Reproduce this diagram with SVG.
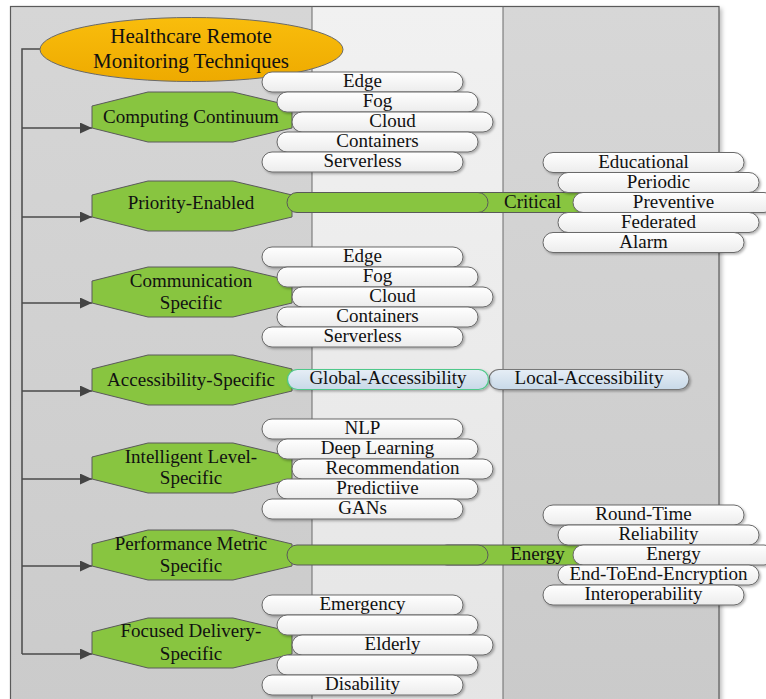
<svg xmlns="http://www.w3.org/2000/svg" width="766" height="699" viewBox="0 0 766 699" font-family="'Liberation Serif', 'DejaVu Serif', serif">
<defs>
  <linearGradient id="gLeft" x1="0" y1="0" x2="0" y2="1"><stop offset="0" stop-color="#d6d6d6"/><stop offset="1" stop-color="#cbcbcb"/></linearGradient>
  <linearGradient id="gMid" x1="0" y1="0" x2="0" y2="1"><stop offset="0" stop-color="#f1f1f1"/><stop offset="1" stop-color="#e5e5e5"/></linearGradient>
  <linearGradient id="gRight" x1="0" y1="0" x2="0" y2="1"><stop offset="0" stop-color="#d7d7d7"/><stop offset="1" stop-color="#cacaca"/></linearGradient>
  <linearGradient id="gPill" x1="0" y1="0" x2="0" y2="1"><stop offset="0" stop-color="#ffffff"/><stop offset="1" stop-color="#ececec"/></linearGradient>
  <linearGradient id="gBlue" x1="0" y1="0" x2="0" y2="1"><stop offset="0" stop-color="#e6eef6"/><stop offset="1" stop-color="#c8d9e8"/></linearGradient>
  <linearGradient id="gOrange" x1="0" y1="0" x2="0" y2="1"><stop offset="0" stop-color="#f9bd0c"/><stop offset="1" stop-color="#eeaa00"/></linearGradient>
  <filter id="sh" x="-10%" y="-30%" width="125%" height="180%"><feDropShadow dx="1.5" dy="1.5" stdDeviation="1" flood-color="#000" flood-opacity="0.3"/></filter>
  <filter id="fsh" x="-5%" y="-5%" width="110%" height="110%"><feDropShadow dx="3" dy="2" stdDeviation="2" flood-color="#000" flood-opacity="0.25"/></filter>
  <marker id="arr" markerUnits="userSpaceOnUse" markerWidth="12" markerHeight="11" refX="12" refY="5.5" orient="auto"><path d="M0,0 L12,5.5 L0,11 Z" fill="#444"/></marker>
</defs>
<style>
  text { font-family: "Liberation Serif", "DejaVu Serif", serif; fill: #111; text-anchor: middle; }
  .t19 { font-size: 19px; }
  .t21 { font-size: 21px; }
  .oct { fill: #88c540; stroke: #5a5a5a; stroke-width: 1; }
  .pill { fill: url(#gPill); stroke: #6a6a6a; stroke-width: 1; filter: url(#sh); }
  .gpill { fill: #88c540; stroke: #5a5a5a; stroke-width: 1; }
  .bpill { fill: url(#gBlue); stroke-width: 1.2; filter: url(#sh); }
  .conn { fill: none; stroke: #4a4a4a; stroke-width: 1.5; }
</style>

<g id="background">
  <rect x="10.5" y="6.5" width="708.5" height="700" fill="#fff" filter="url(#fsh)"/>
  <rect x="10.5" y="6.5" width="301.5" height="700" fill="url(#gLeft)"/>
  <rect x="312" y="6.5" width="191" height="700" fill="url(#gMid)"/>
  <rect x="503" y="6.5" width="216" height="700" fill="url(#gRight)"/>
  <rect x="10.5" y="6.5" width="708.5" height="700" fill="none" stroke="#5a5a5a" stroke-width="1.2"/>
  <line x1="312" y1="6.5" x2="312" y2="699" stroke="#6a6a6a" stroke-width="1"/>
  <line x1="503" y1="6.5" x2="503" y2="699" stroke="#6a6a6a" stroke-width="1"/>
</g>

<g id="connectors">
  <path class="conn" d="M40,49 H22 V654"/>
  <path class="conn" d="M22,128 H92" marker-end="url(#arr)"/>
  <path class="conn" d="M22,217 H92" marker-end="url(#arr)"/>
  <path class="conn" d="M22,303 H92" marker-end="url(#arr)"/>
  <path class="conn" d="M22,391 H92" marker-end="url(#arr)"/>
  <path class="conn" d="M22,479 H92" marker-end="url(#arr)"/>
  <path class="conn" d="M22,566 H92" marker-end="url(#arr)"/>
  <path class="conn" d="M22,654 H92" marker-end="url(#arr)"/>
</g>

<g id="root">
  <ellipse cx="191.5" cy="49.5" rx="151.5" ry="32" fill="url(#gOrange)" stroke="#6a6a6a" stroke-width="1"/>
  <text class="t21" x="191" y="43">Healthcare Remote</text>
  <text class="t21" x="191" y="68">Monitoring Techniques</text>
</g>

<g id="computing-continuum">
  <polygon class="oct" points="92,106 148,92 233,92 292,106 292,128 233,142 148,142 92,128"/>
  <text class="t19" x="191" y="123">Computing Continuum</text>
</g>
<g id="computing-items">
  <rect class="pill" x="262" y="72" width="201" height="20" rx="10"/><text class="t19" x="362.5" y="87">Edge</text>
  <rect class="pill" x="277" y="92" width="201" height="20" rx="10"/><text class="t19" x="377.5" y="107">Fog</text>
  <rect class="pill" x="292" y="112" width="201" height="20" rx="10"/><text class="t19" x="392.5" y="127">Cloud</text>
  <rect class="pill" x="277" y="132" width="201" height="20" rx="10"/><text class="t19" x="377.5" y="147">Containers</text>
  <rect class="pill" x="262" y="152" width="201" height="20" rx="10"/><text class="t19" x="362.5" y="167">Serverless</text>
</g>

<g id="priority-enabled">
  <polygon class="oct" points="92,195 148,181 233,181 292,195 292,217 233,231 148,231 92,217"/>
  <text class="t19" x="191" y="209">Priority-Enabled</text>
</g>
<g id="priority-critical">
  <rect class="gpill" x="437" y="192.5" width="201" height="20" rx="10"/>
  <text class="t19" x="532.5" y="208">Critical</text>
  <rect class="gpill" x="287" y="192.5" width="201" height="20" rx="10"/>
</g>
<g id="priority-items">
  <rect class="pill" x="543" y="152.5" width="201" height="20" rx="10"/><text class="t19" x="643.5" y="167.5">Educational</text>
  <rect class="pill" x="558" y="172.5" width="201" height="20" rx="10"/><text class="t19" x="658.5" y="187.5">Periodic</text>
  <rect class="pill" x="573" y="192.5" width="201" height="20" rx="10"/><text class="t19" x="673.5" y="207.5">Preventive</text>
  <rect class="pill" x="558" y="212.5" width="201" height="20" rx="10"/><text class="t19" x="658.5" y="227.5">Federated</text>
  <rect class="pill" x="543" y="232.5" width="201" height="20" rx="10"/><text class="t19" x="643.5" y="247.5">Alarm</text>
</g>

<g id="communication-specific">
  <polygon class="oct" points="92,281 148,267 233,267 292,281 292,303 233,317 148,317 92,303"/>
  <text class="t19" x="191" y="287">Communication</text>
  <text class="t19" x="191" y="309">Specific</text>
</g>
<g id="communication-items">
  <rect class="pill" x="262" y="247" width="201" height="20" rx="10"/><text class="t19" x="362.5" y="262">Edge</text>
  <rect class="pill" x="277" y="267" width="201" height="20" rx="10"/><text class="t19" x="377.5" y="282">Fog</text>
  <rect class="pill" x="292" y="287" width="201" height="20" rx="10"/><text class="t19" x="392.5" y="302">Cloud</text>
  <rect class="pill" x="277" y="307" width="201" height="20" rx="10"/><text class="t19" x="377.5" y="322">Containers</text>
  <rect class="pill" x="262" y="327" width="201" height="20" rx="10"/><text class="t19" x="362.5" y="342">Serverless</text>
</g>

<g id="accessibility-specific">
  <polygon class="oct" points="92,369 148,355 233,355 292,369 292,391 233,405 148,405 92,391"/>
  <text class="t19" x="191" y="386">Accessibility-Specific</text>
</g>
<g id="accessibility-items">
  <rect class="bpill" x="489" y="369.5" width="200" height="20" rx="10" stroke="#777"/>
  <text class="t19" x="589" y="384">Local-Accessibility</text>
  <rect class="bpill" x="287.5" y="369.5" width="201" height="20" rx="10" stroke="#4fc98a"/>
  <text class="t19" x="388" y="384">Global-Accessibility</text>
</g>

<g id="intelligent-level-specific">
  <polygon class="oct" points="92,457 148,443 233,443 292,457 292,479 233,493 148,493 92,479"/>
  <text class="t19" x="191" y="463">Intelligent Level-</text>
  <text class="t19" x="191" y="484">Specific</text>
</g>
<g id="intelligent-items">
  <rect class="pill" x="262" y="419" width="201" height="20" rx="10"/><text class="t19" x="362.5" y="434">NLP</text>
  <rect class="pill" x="277" y="439" width="201" height="20" rx="10"/><text class="t19" x="377.5" y="454">Deep Learning</text>
  <rect class="pill" x="292" y="459" width="201" height="20" rx="10"/><text class="t19" x="392.5" y="474">Recommendation</text>
  <rect class="pill" x="277" y="479" width="201" height="20" rx="10"/><text class="t19" x="377.5" y="494">Predictiive</text>
  <rect class="pill" x="262" y="499" width="201" height="20" rx="10"/><text class="t19" x="362.5" y="514">GANs</text>
</g>

<g id="performance-metric-specific">
  <polygon class="oct" points="92,544 148,530 233,530 292,544 292,566 233,580 148,580 92,566"/>
  <text class="t19" x="191" y="550">Performance Metric</text>
  <text class="t19" x="191" y="572">Specific</text>
</g>
<g id="performance-energy">
  <rect class="gpill" x="437" y="545" width="201" height="20" rx="10"/>
  <text class="t19" x="537.5" y="560">Energy</text>
  <rect class="gpill" x="287" y="545" width="201" height="20" rx="10"/>
</g>
<g id="performance-items">
  <rect class="pill" x="543" y="505" width="201" height="20" rx="10"/><text class="t19" x="643.5" y="520">Round-Time</text>
  <rect class="pill" x="558" y="525" width="201" height="20" rx="10"/><text class="t19" x="658.5" y="540">Reliability</text>
  <rect class="pill" x="573" y="545" width="201" height="20" rx="10"/><text class="t19" x="673.5" y="560">Energy</text>
  <rect class="pill" x="558" y="565" width="201" height="20" rx="10"/><text class="t19" x="658.5" y="580">End-ToEnd-Encryption</text>
  <rect class="pill" x="543" y="585" width="201" height="20" rx="10"/><text class="t19" x="643.5" y="600">Interoperability</text>
</g>

<g id="focused-delivery-specific">
  <polygon class="oct" points="92,632 148,618 233,618 292,632 292,654 233,668 148,668 92,654"/>
  <text class="t19" x="191" y="637">Focused Delivery-</text>
  <text class="t19" x="191" y="660">Specific</text>
</g>
<g id="focused-items">
  <rect class="pill" x="262" y="595" width="201" height="20" rx="10"/><text class="t19" x="362.5" y="610">Emergency</text>
  <rect class="pill" x="277" y="615" width="201" height="20" rx="10"/>
  <rect class="pill" x="292" y="635" width="201" height="20" rx="10"/><text class="t19" x="392.5" y="650">Elderly</text>
  <rect class="pill" x="277" y="655" width="201" height="20" rx="10"/>
  <rect class="pill" x="262" y="675" width="201" height="20" rx="10"/><text class="t19" x="362.5" y="690">Disability</text>
</g>
</svg>
